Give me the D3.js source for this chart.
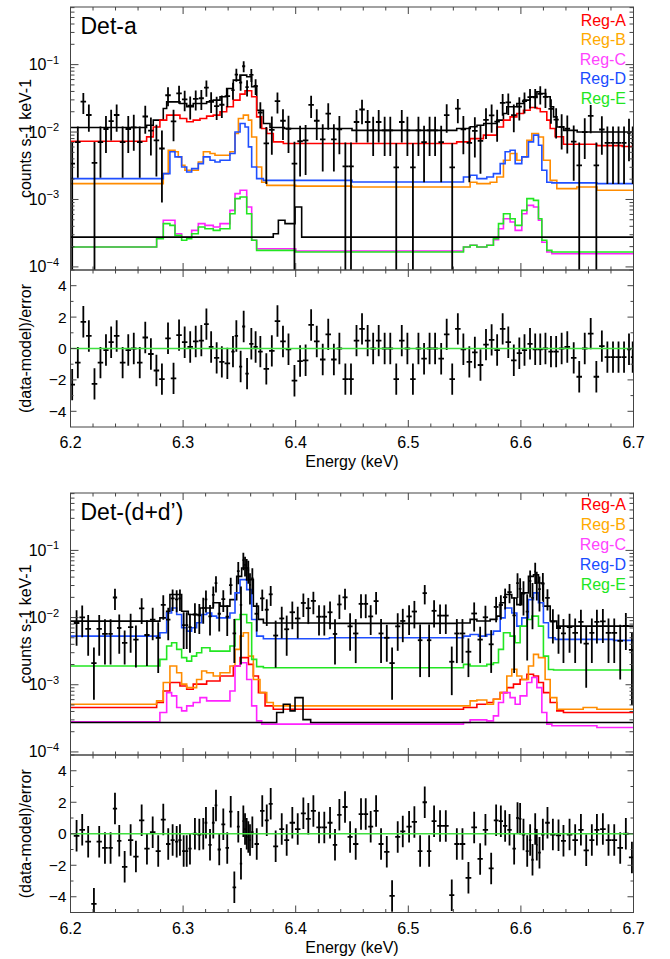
<!DOCTYPE html>
<html>
<head>
<meta charset="utf-8">
<script src="https://cdn.jsdelivr.net/npm/d3@7"></script>
<style>
  body { margin: 0; background: #fff; }
  svg { display: block; }
  text { font-family: "Liberation Sans", Arial, Helvetica, sans-serif; }
</style>
</head>
<body>
<svg id="chart" width="670" height="959"></svg>
<script>
// ---- legend ----
const regionNames = ["Reg-A", "Reg-B", "Reg-C", "Reg-D", "Reg-E"];
const regionLineColors = ["#ff0000", "#ff8c00", "#ff22ff", "#1f4fff", "#22e622"];
const regionTextColors = ["#ff0000", "#ffaa00", "#ff44ff", "#1a4cff", "#22e622"];
const xTickLabels = ["6.2", "6.3", "6.4", "6.5", "6.6", "6.7"];

// ---- Det-a : model step curves [energy keV, counts/s/keV] ----
const detATotal = [[6.2,.0117],[6.2676,.0126],[6.2735,.015],[6.2824,.0223],[6.2854,.028],[6.2972,.0265],[6.3032,.0237],[6.3090,.0265],[6.3209,.028],[6.3268,.0297],[6.3328,.0333],[6.3387,.0443],[6.3446,.0589],[6.3505,.0698],[6.3565,.066],[6.3609,.0469],[6.3654,.0211],[6.3713,.0134],[6.3772,.0117],[6.39,.0113],[6.45,.0106],[6.543,.0113],[6.555,.012],[6.561,.0126],[6.567,.0134],[6.5786,.015],[6.5845,.0188],[6.5875,.0237],[6.5964,.0265],[6.6023,.0297],[6.6082,.0333],[6.6142,.0395],[6.6172,.0373],[6.622,.0333],[6.626,.0237],[6.629,.0168],[6.632,.0119],[6.638,.0106],[6.65,.01]];
const detARegA = [[6.2,.00731],[6.2676,.00847],[6.2735,.0119],[6.2794,.015],[6.2854,.0178],[6.2972,.0159],[6.3032,.0142],[6.309,.015],[6.315,.0159],[6.3209,.0172],[6.3268,.0178],[6.3328,.02],[6.3387,.0237],[6.3446,.0297],[6.3505,.0365],[6.355,.0409],[6.3609,.0333],[6.3653,.0168],[6.3698,.0113],[6.3743,.0095],[6.3801,.00715],[6.389,.00675],[6.543,.00715],[6.5549,.008],[6.5667,.009],[6.5786,.0119],[6.5845,.015],[6.5904,.0168],[6.5964,.0188],[6.6023,.0211],[6.6082,.0231],[6.6142,.0224],[6.6172,.02],[6.623,.015],[6.626,.0113],[6.6304,.0085],[6.6378,.00659],[6.6675,.0063],[6.69,.0061]];
const detARegB = [[6.2,.00172],[6.2824,.00242],[6.2868,.00537],[6.2928,.0051],[6.2957,.00428],[6.2987,.00322],[6.3016,.00271],[6.3135,.0036],[6.318,.0051],[6.3239,.0048],[6.3283,.00453],[6.3416,.0051],[6.3461,.0095],[6.3491,.0159],[6.3535,.0178],[6.358,.015],[6.3609,.00845],[6.3653,.00303],[6.3698,.0018],[6.3743,.00162],[6.40,.00158],[6.45,.00153],[6.5549,.0018],[6.5609,.00172],[6.5727,.0018],[6.5786,.00216],[6.5845,.00382],[6.5904,.0048],[6.5964,.00382],[6.6008,.00428],[6.6053,.00757],[6.6097,.0095],[6.6156,.00845],[6.62,.00382],[6.626,.00192],[6.6319,.00145],[6.6497,.00153],[6.6675,.00137]];
const detARegC = [[6.2,.000197],[6.2765,.00027],[6.2824,.000491],[6.2928,.000311],[6.2987,.000276],[6.3076,.000348],[6.3135,.000438],[6.3194,.000413],[6.3268,.000391],[6.3328,.000438],[6.3416,.00069],[6.3461,.00122],[6.3506,.00137],[6.3565,.000774],[6.3609,.000248],[6.3653,.000186],[6.40,.000172],[6.549,.000197],[6.5549,.00021],[6.5609,.000197],[6.5697,.00021],[6.5756,.000254],[6.5801,.000369],[6.5845,.000519],[6.5904,.000463],[6.5949,.000348],[6.6008,.000615],[6.6053,.000818],[6.6112,.000774],[6.6156,.000491],[6.6186,.000232],[6.623,.000166],[6.6275,.000157]];
const detARegD = [[6.2,.00204],[6.2824,.00242],[6.2883,.0051],[6.2928,.00428],[6.2987,.00303],[6.3032,.00256],[6.3076,.00287],[6.3135,.0034],[6.318,.00428],[6.3239,.00382],[6.3283,.0036],[6.3328,.00382],[6.3416,.0048],[6.3461,.01],[6.3506,.0134],[6.355,.0119],[6.358,.00603],[6.3609,.00303],[6.3653,.00204],[6.3713,.00192],[6.45,.00182],[6.549,.00216],[6.5549,.00229],[6.5609,.00204],[6.5697,.00216],[6.5756,.00242],[6.5816,.0034],[6.586,.0051],[6.5904,.00537],[6.5949,.0034],[6.6008,.00428],[6.6067,.00715],[6.6112,.009],[6.6156,.00637],[6.6186,.00271],[6.623,.0018],[6.6275,.00176],[6.6675,.00172]];
const detARegE = [[6.2,.000197],[6.2765,.000262],[6.2824,.000438],[6.2883,.000413],[6.2928,.000294],[6.2987,.000248],[6.3032,.000262],[6.3076,.000311],[6.3135,.000391],[6.3194,.000369],[6.3268,.000348],[6.3328,.000369],[6.3416,.000615],[6.3461,.00103],[6.3506,.00109],[6.3565,.000615],[6.3609,.000248],[6.3653,.000176],[6.40,.000166],[6.549,.000197],[6.5549,.00021],[6.5609,.000197],[6.5697,.00021],[6.5756,.000262],[6.5801,.000438],[6.5845,.000615],[6.5904,.000519],[6.5949,.000413],[6.6008,.00069],[6.6053,.00103],[6.6112,.00097],[6.6156,.000519],[6.6186,.000248],[6.623,.000176],[6.6275,.000166]];
const detAOther = [[6.2,.000277],[6.3801,.000311],[6.3846,.000491],[6.3905,.000438],[6.3994,.000774],[6.4053,.000277]];

// ---- Det-a : spectrum bins ----
const detAEnergy = [6.2015,6.2065,6.2114,6.2163,6.2213,6.2266,6.2315,6.2361,6.2410,6.2463,6.2513,6.2562,6.2615,6.2664,6.2714,6.2763,6.2812,6.2866,6.2915,6.2964,6.3014,6.3063,6.3112,6.3162,6.3207,6.3249,6.3298,6.3344,6.3393,6.3443,6.3473,6.3511,6.3538,6.3568,6.3606,6.3644,6.3686,6.3739,6.3788,6.3838,6.3887,6.3936,6.3989,6.4039,6.4088,6.4137,6.4187,6.4240,6.4289,6.4339,6.4388,6.4441,6.4491,6.4540,6.4589,6.4639,6.4688,6.4737,6.4790,6.4840,6.4893,6.4942,6.4992,6.5041,6.5090,6.5140,6.5189,6.5238,6.5292,6.5341,6.5390,6.5440,6.5489,6.5542,6.5591,6.5641,6.5690,6.5740,6.5789,6.5838,6.5888,6.5937,6.5986,6.6032,6.6081,6.6127,6.6172,6.6218,6.6267,6.6313,6.6362,6.6412,6.6469,6.6518,6.6567,6.6620,6.6670,6.6719,6.6768,6.6818,6.6867,6.6916,6.6960,6.6993];
const detARate = [.0034,.0071,.0282,.0179,.0035,.0071,.0111,.0145,.0179,.0071,.0111,.0117,.0071,.0170,.0105,.0075,.0057,.0351,.0144,.0375,.0306,.0246,.0311,.0317,.0456,.0290,.0242,.0254,.0341,.0419,.0712,.0543,.0945,.0462,.0706,.0482,.0195,.0068,.0108,.0287,.0147,.0112,.0034,.0073,.0075,.0253,.0147,.0078,.0188,.0078,.0110,.0031,.0031,.0141,.0216,.0141,.0106,.0141,.0106,.0106,.0030,.0141,.0106,.0030,.0106,.0071,.0106,.0106,.0071,.0178,.0030,.0222,.0110,.0069,.0104,.0074,.0152,.0177,.0143,.0270,.0276,.0178,.0238,.0287,.0329,.0328,.0367,.0333,.0220,.0153,.0119,.0112,.0072,.0032,.0100,.0174,.0032,.0109,.0069,.0069,.0069,.0069,.0097,.0069];
const detAErr = [.0036,.0050,.0097,.0078,.0036,.0050,.0062,.0070,.0078,.0050,.0062,.0064,.0050,.0076,.0060,.0053,.0048,.0109,.0071,.0112,.0102,.0092,.0103,.0104,.0123,.0098,.0091,.0093,.0107,.0119,.0153,.0135,.0176,.0124,.0153,.0127,.0082,.0051,.0062,.0098,.0071,.0063,.0038,.0051,.0052,.0092,.0071,.0052,.0080,.0052,.0063,.0039,.0039,.0071,.0086,.0071,.0062,.0071,.0062,.0062,.0038,.0071,.0062,.0038,.0062,.0053,.0062,.0062,.0053,.0080,.0038,.0087,.0063,.0051,.0062,.0050,.0073,.0079,.0071,.0096,.0097,.0079,.0090,.0099,.0105,.0105,.0111,.0106,.0087,.0073,.0064,.0064,.0053,.0038,.0060,.0078,.0038,.0063,.0052,.0052,.0052,.0052,.0060,.0052];
const detAResid = [-2.3,-0.9,1.7,0.8,-2.25,-0.9,-0.1,0.4,0.8,-0.9,-0.1,0,-0.9,0.7,-0.35,-1.4,-1.95,0.65,-1.9,0.85,0.4,0.1,0.45,0.5,1.55,0.1,-0.6,-0.85,-0.95,-0.2,0.8,-1.15,1.4,-1.6,0.3,0.1,-0.2,-1.3,-0.15,1.75,0.45,-0.05,-2.05,-0.8,-0.75,1.5,0.45,-0.7,0.9,-0.7,0,-1.95,-1.95,0.5,1.25,0.5,0,0.5,0,0,-1.95,0.5,0,-1.95,0,-0.65,0,0,-0.65,0.9,-1.95,1.25,-0.05,-0.85,-0.25,-1.05,0.25,0.55,-0.1,1.25,0.4,-0.75,-0.3,-0.1,0.3,-0.05,-0.05,0,-0.2,-0.2,0,0.1,-0.6,-1.8,0,0.95,-1.8,0.15,-0.55,-0.55,-0.55,-0.55,-0.05,-0.55];

// ---- Det-(d+d') : model step curves ----
const detDTotal = [[6.2,.00885],[6.2794,.0099],[6.2854,.0124],[6.2883,.022],[6.2987,.0124],[6.3046,.0111],[6.315,.0139],[6.3268,.0166],[6.3328,.0148],[6.3416,.0185],[6.3476,.0411],[6.352,.0547],[6.358,.0367],[6.3624,.0148],[6.3669,.0094],[6.3713,.0083],[6.43,.0082],[6.5431,.0083],[6.5549,.0094],[6.5609,.0089],[6.5727,.0094],[6.5786,.0105],[6.5816,.0166],[6.586,.022],[6.5919,.0196],[6.5964,.0156],[6.6008,.0233],[6.6067,.0411],[6.6112,.0435],[6.6156,.0327],[6.62,.0148],[6.626,.0089],[6.6319,.00745]];
const detDRegA = [[6.2,.000458],[6.2765,.000543],[6.2824,.000809],[6.2883,.00108],[6.2972,.00096],[6.3032,.000857],[6.309,.00102],[6.3209,.00114],[6.3328,.00135],[6.3446,.0019],[6.3506,.00253],[6.358,.00201],[6.3624,.00135],[6.3669,.000764],[6.3728,.000484],[6.3801,.000432],[6.549,.000458],[6.5609,.000513],[6.5697,.000543],[6.5756,.000608],[6.5816,.000764],[6.5875,.000906],[6.5934,.00102],[6.5993,.0012],[6.6053,.00143],[6.6112,.00135],[6.6156,.00108],[6.62,.000764],[6.626,.000543],[6.6319,.000408],[6.6378,.000386]];
const detDRegB = [[6.2,.000513],[6.2765,.000575],[6.2824,.00108],[6.2883,.0019],[6.2943,.00151],[6.2987,.00102],[6.3032,.000906],[6.312,.0012],[6.3165,.0016],[6.3209,.00151],[6.3268,.00135],[6.3328,.00151],[6.3416,.0019],[6.3461,.00336],[6.3506,.0053],[6.3535,.00593],[6.358,.00267],[6.3624,.0012],[6.3683,.000764],[6.3743,.000543],[6.3801,.000484],[6.5549,.000575],[6.5609,.000594],[6.5697,.000513],[6.5756,.000608],[6.5816,.000764],[6.5875,.00135],[6.5919,.0017],[6.5964,.00135],[6.6008,.0012],[6.6067,.0019],[6.6112,.00283],[6.6156,.00253],[6.6215,.0012],[6.626,.000644],[6.6319,.000432],[6.6553,.000458],[6.6675,.000432]];
const detDRegC = [[6.2,.000281],[6.2794,.000386],[6.2854,.000764],[6.2898,.000683],[6.2943,.000458],[6.2987,.000408],[6.3032,.000484],[6.309,.000543],[6.315,.000644],[6.3209,.000575],[6.3416,.000809],[6.3461,.0019],[6.3506,.00213],[6.3565,.0012],[6.3609,.000484],[6.3653,.00029],[6.3698,.000259],[6.549,.000274],[6.5549,.0003],[6.5697,.00029],[6.5756,.000344],[6.5801,.000543],[6.5845,.000764],[6.5904,.000644],[6.5949,.000513],[6.5993,.000683],[6.6053,.00108],[6.6097,.00128],[6.6142,.000906],[6.6186,.000386],[6.623,.000259],[6.6275,.000245],[6.6675,.000231]];
const detDRegD = [[6.2,.0053],[6.2794,.00594],[6.2854,.0117],[6.2898,.0139],[6.2943,.0111],[6.2987,.00705],[6.3032,.00628],[6.3076,.00705],[6.312,.00836],[6.3165,.0111],[6.3209,.0117],[6.3254,.0105],[6.3298,.0099],[6.3416,.0117],[6.3461,.0233],[6.3506,.0367],[6.3565,.0261],[6.3609,.00935],[6.3653,.0053],[6.3713,.00483],[6.43,.00501],[6.549,.0053],[6.5549,.00561],[6.5623,.0053],[6.5697,.00561],[6.5756,.00628],[6.5816,.0099],[6.586,.0139],[6.5919,.0117],[6.5964,.00745],[6.6008,.0099],[6.6067,.0185],[6.6112,.0233],[6.6156,.0166],[6.62,.00836],[6.6245,.00501],[6.6304,.00473],[6.6823,.00457]];
const detDRegE = [[6.2,.0019],[6.2794,.00239],[6.2854,.00377],[6.2898,.00422],[6.2943,.00336],[6.2987,.00253],[6.3032,.00225],[6.3076,.00267],[6.312,.003],[6.3165,.00356],[6.3239,.00317],[6.3416,.00377],[6.3461,.00935],[6.3506,.0111],[6.3565,.00836],[6.3609,.00239],[6.3653,.00186],[6.3713,.00179],[6.549,.00201],[6.5549,.0019],[6.5697,.00201],[6.5756,.00213],[6.5801,.00336],[6.5845,.00593],[6.5904,.0053],[6.5949,.00422],[6.5993,.00745],[6.6053,.00935],[6.6097,.0105],[6.6156,.00745],[6.62,.00267],[6.6245,.00169],[6.629,.00166]];
const detDOther = [[6.2,.000274],[6.3831,.000386],[6.389,.000513],[6.395,.000408],[6.3994,.000644],[6.4065,.000303],[6.4133,.000274]];

// ---- Det-(d+d') : spectrum bins ----
const detDEnergy = [6.2054,6.2104,6.2157,6.2208,6.2255,6.2306,6.2356,6.2395,6.2433,6.2481,6.2534,6.2581,6.2632,6.2679,6.2730,6.2779,6.2824,6.2868,6.2907,6.2943,6.2972,6.3005,6.3032,6.3061,6.3105,6.3144,6.3179,6.3203,6.3239,6.3268,6.3292,6.3321,6.3357,6.3392,6.3423,6.3455,6.3490,6.3514,6.3535,6.3550,6.3565,6.3579,6.3594,6.3615,6.3654,6.3703,6.3743,6.3778,6.3822,6.3876,6.3920,6.3970,6.4018,6.4068,6.4112,6.4157,6.4207,6.4254,6.4305,6.4349,6.4388,6.4438,6.4483,6.4533,6.4580,6.4622,6.4666,6.4714,6.4758,6.4809,6.4856,6.4906,6.4951,6.5007,6.5054,6.5105,6.5146,6.5185,6.5229,6.5282,6.5333,6.5386,6.5431,6.5481,6.5534,6.5585,6.5638,6.5685,6.5736,6.5780,6.5822,6.5860,6.5899,6.5940,6.5970,6.5993,6.6023,6.6056,6.6082,6.6103,6.6127,6.6141,6.6165,6.6195,6.6236,6.6284,6.6334,6.6378,6.6432,6.6482,6.6533,6.6580,6.6630,6.6675,6.6728,6.6778,6.6829,6.6882,6.6932,6.6986];
const detDRate = [.0083,.0101,.0068,.0021,.0068,.0057,.0057,.0199,.0070,.0042,.0072,.0047,.0137,.0055,.0093,.0050,.0154,.0093,.0193,.0187,.0193,.0077,.0077,.0072,.0111,.0108,.0139,.0186,.0104,.0217,.0325,.0114,.0188,.0103,.0305,.0058,.0491,.0155,.0715,.0607,.0547,.0509,.0307,.0383,.0114,.0193,.0131,.0222,.0054,.0097,.0067,.0120,.0097,.0165,.0138,.0177,.0103,.0103,.0120,.0057,.0157,.0200,.0074,.0058,.0160,.0160,.0104,.0176,.0058,.0050,.0021,.0074,.0089,.0104,.0123,.0046,.0231,.0046,.0126,.0107,.0107,.0022,.0058,.0058,.0031,.0115,.0047,.0101,.0040,.0144,.0154,.0201,.0239,.0108,.0326,.0268,.0227,.0123,.0350,.0197,.0486,.0330,.0265,.0320,.0196,.0087,.0070,.0058,.0072,.0059,.0086,.0041,.0059,.0086,.0088,.0059,.0059,.0045,.0075,.0033];
const detDErr = [.0045,.0050,.0041,.0015,.0041,.0037,.0037,.0069,.0041,.0022,.0042,.0029,.0057,.0036,.0047,.0035,.0061,.0047,.0068,.0067,.0068,.0043,.0043,.0042,.0052,.0051,.0058,.0067,.0050,.0072,.0088,.0052,.0067,.0050,.0086,.0037,.0178,.0135,.0210,.0200,.0195,.0190,.0150,.0160,.0052,.0068,.0056,.0073,.0036,.0048,.0040,.0053,.0048,.0063,.0058,.0065,.0049,.0049,.0053,.0037,.0062,.0069,.0042,.0037,.0062,.0062,.0049,.0065,.0037,.0028,.0015,.0042,.0046,.0049,.0054,.0033,.0074,.0033,.0055,.0050,.0050,.0015,.0037,.0037,.0018,.0053,.0026,.0049,.0025,.0059,.0061,.0069,.0076,.0093,.0130,.0118,.0120,.0100,.0151,.0130,.0169,.0150,.0142,.0142,.0069,.0046,.0041,.0037,.0042,.0038,.0045,.0032,.0038,.0045,.0046,.0038,.0038,.0033,.0042,.0028];
const detDResid = [-0.13,0.25,-0.5,-4.45,-0.5,-0.9,-0.9,1.6,-0.45,-2.1,-0.4,-1.45,0.85,-0.95,0.1,-1.1,0.9,-0.65,-0.4,-0.5,-0.4,-1.1,-1.1,-0.95,0,-0.05,0,0.7,-0.7,0.7,1.8,-1.0,0.6,-0.9,1.4,-3.4,0.45,-1.9,0.8,0.3,0,-0.2,-0.4,0.1,-0.65,1.45,0.85,1.9,-0.8,0.3,-0.4,0.7,0.3,1.3,0.95,1.45,0.4,0.4,0.7,-0.7,1.2,1.7,-0.2,-0.65,1.25,1.25,0.45,1.45,-0.65,-1.15,-3.95,-0.2,0.15,0.45,0.75,-1.1,2.0,-1.1,0.8,0.5,0.5,-3.9,-0.65,-0.65,-2.8,0.4,-1.6,0.25,-2.2,0.85,0.8,0.5,0.25,-0.95,1.0,0.95,-0.05,-1.1,-0.4,-1.65,0.3,-0.7,-1.2,-0.05,0.7,-0.05,-0.1,-0.45,-0.05,-0.4,0.25,-1.05,-0.4,0.25,0.3,-0.4,-0.4,-0.9,0,-1.5];

const svg = d3.select("#chart");
const plotLeft = 70.5, plotRight = 633.5;
const frameColor = "#444";

function drawPanel(p) {
  const x = d3.scaleLinear().domain([6.2, 6.7]).range([plotLeft, plotRight]);
  const y = d3.scaleLog().domain([9e-5, 0.715]).range([p.mainBottom, p.top]);
  const yr = d3.scaleLinear().domain([-5, 5]).range([p.resBottom, p.mainBottom]);
  const g = svg.append("g");

  // clip regions
  g.append("clipPath").attr("id", p.id + "-main")
    .append("rect").attr("x", plotLeft).attr("y", p.top)
    .attr("width", plotRight - plotLeft).attr("height", p.mainBottom - p.top);
  g.append("clipPath").attr("id", p.id + "-res")
    .append("rect").attr("x", plotLeft).attr("y", p.mainBottom)
    .attr("width", plotRight - plotLeft).attr("height", p.resBottom - p.mainBottom);

  const main = g.append("g").attr("clip-path", `url(#${p.id}-main)`);
  const res = g.append("g").attr("clip-path", `url(#${p.id}-res)`);

  // model step curves
  const step = d3.line().x(d => x(d[0])).y(d => y(d[1])).curve(d3.curveStepAfter);
  const models = [[p.total, "#000"]].concat(p.regions.map((r, i) => [r, regionLineColors[i]])).concat([[p.other, "#000"]]);
  models.forEach(([m, col]) => {
    const pts = m.concat([[6.7, m[m.length - 1][1]]]);
    main.append("path").attr("d", step(pts))
      .attr("fill", "none").attr("stroke", col).attr("stroke-width", 1.6);
  });

  // half bin widths from neighbour spacing
  const E = p.energy;
  const hw = E.map((e, i) => {
    const a = i > 0 ? e - E[i - 1] : E[1] - E[0];
    const b = i < E.length - 1 ? E[i + 1] - e : a;
    return Math.min(a, b) / 2;
  });

  const ymin = y.domain()[0];
  E.forEach((e, i) => {
    const d = p.rate[i], s = p.err[i];
    if (d + s > ymin) {
      main.append("line")
        .attr("x1", x(e)).attr("x2", x(e))
        .attr("y1", y(Math.max(d - s, ymin / 2))).attr("y2", y(d + s))
        .attr("stroke", "#000").attr("stroke-width", 1.8);
    }
    if (d > ymin) {
      main.append("line")
        .attr("x1", x(e - hw[i])).attr("x2", x(e + hw[i]))
        .attr("y1", y(d)).attr("y2", y(d))
        .attr("stroke", "#000").attr("stroke-width", 1.8);
    }
    const r = p.resid[i];
    res.append("line")
      .attr("x1", x(e)).attr("x2", x(e))
      .attr("y1", yr(r - 1)).attr("y2", yr(r + 1))
      .attr("stroke", "#000").attr("stroke-width", 1.8);
    res.append("line")
      .attr("x1", x(e - hw[i])).attr("x2", x(e + hw[i]))
      .attr("y1", yr(r)).attr("y2", yr(r))
      .attr("stroke", "#000").attr("stroke-width", 1.8);
  });

  // zero line
  res.append("line")
    .attr("x1", plotLeft).attr("x2", plotRight)
    .attr("y1", yr(0)).attr("y2", yr(0))
    .attr("stroke", "#3fe03f").attr("stroke-width", 1.3);

  // frames
  [[p.top, p.mainBottom], [p.mainBottom, p.resBottom]].forEach(([t, b]) => {
    g.append("rect").attr("x", plotLeft).attr("y", t)
      .attr("width", plotRight - plotLeft).attr("height", b - t)
      .attr("fill", "none").attr("stroke", frameColor).attr("stroke-width", 1);
  });

  const tick = (x1, y1, x2, y2) => g.append("line")
    .attr("x1", x1).attr("y1", y1).attr("x2", x2).attr("y2", y2)
    .attr("stroke", frameColor).attr("stroke-width", 1);

  // energy ticks on every horizontal edge, pointing inward
  const xMajor = x.ticks(5);
  x.ticks(25).forEach(v => {
    const major = xMajor.some(m => Math.abs(m - v) < 1e-6);
    const len = major ? 7 : 3.5;
    const px = x(v);
    tick(px, p.top, px, p.top + len);
    tick(px, p.mainBottom, px, p.mainBottom - len);
    tick(px, p.mainBottom, px, p.mainBottom + len);
    tick(px, p.resBottom, px, p.resBottom - len);
  });

  // log ticks
  y.ticks().forEach(v => {
    const lg = Math.log10(v);
    const major = Math.abs(lg - Math.round(lg)) < 1e-6;
    const len = major ? 8 : 4;
    const py = y(v);
    tick(plotLeft, py, plotLeft + len, py);
    tick(plotRight, py, plotRight - len, py);
    if (major) {
      const t = g.append("text").attr("x", plotLeft - 11.5).attr("y", py + 5.5)
        .attr("text-anchor", "end").attr("font-size", 16).attr("fill", "#000");
      t.append("tspan").text("10");
      t.append("tspan").attr("dy", -6.5).attr("font-size", 11).text("\u2212" + Math.abs(Math.round(lg)));
    }
  });

  // residual ticks
  yr.ticks(10).forEach(v => {
    if (Math.abs(v) > 4.5) return;
    const major = v % 2 === 0;
    const len = major ? 6 : 3;
    const py = yr(v);
    tick(plotLeft, py, plotLeft + len, py);
    tick(plotRight, py, plotRight - len, py);
    if (major) {
      g.append("text").attr("x", plotLeft - 4).attr("y", py + 5.5)
        .attr("text-anchor", "end").attr("font-size", 15.5).attr("fill", "#000")
        .text(v < 0 ? "\u2212" + Math.abs(v) : String(v));
    }
  });

  // energy labels
  xMajor.forEach((v, i) => {
    g.append("text").attr("x", x(v)).attr("y", p.resBottom + 21)
      .attr("text-anchor", "middle").attr("font-size", 16).attr("fill", "#000")
      .text(xTickLabels[i]);
  });
  g.append("text").attr("x", (plotLeft + plotRight) / 2).attr("y", p.resBottom + 40)
    .attr("text-anchor", "middle").attr("font-size", 16).attr("fill", "#000")
    .text("Energy (keV)");

  // axis titles
  g.append("text")
    .attr("transform", `translate(31,${(p.top + p.mainBottom) / 2}) rotate(-90)`)
    .attr("text-anchor", "middle").attr("font-size", 16).attr("fill", "#000")
    .text("counts s-1 keV-1");
  g.append("text")
    .attr("transform", `translate(31,${(p.mainBottom + p.resBottom) / 2}) rotate(-90)`)
    .attr("text-anchor", "middle").attr("font-size", 16).attr("fill", "#000")
    .text("(data-model)/error");

  // panel title
  g.append("text").attr("x", plotLeft + 10).attr("y", p.top + 26.5)
    .attr("font-size", 23).attr("fill", "#000").text(p.title);

  // legend
  regionNames.forEach((n, i) => {
    g.append("text").attr("x", 626).attr("y", p.top + p.legendOffset + i * p.legendStep)
      .attr("text-anchor", "end").attr("font-size", 16)
      .attr("fill", regionTextColors[i]).text(n);
  });
}

drawPanel({
  id: "deta", title: "Det-a", top: 7, mainBottom: 270, resBottom: 427,
  legendOffset: 18.5, legendStep: 19.6,
  total: detATotal, regions: [detARegA, detARegB, detARegC, detARegD, detARegE], other: detAOther,
  energy: detAEnergy, rate: detARate, err: detAErr, resid: detAResid
});

drawPanel({
  id: "detd", title: "Det-(d+d\u2019)", top: 493, mainBottom: 755, resBottom: 912.5,
  legendOffset: 16.5, legendStep: 20,
  total: detDTotal, regions: [detDRegA, detDRegB, detDRegC, detDRegD, detDRegE], other: detDOther,
  energy: detDEnergy, rate: detDRate, err: detDErr, resid: detDResid
});
</script>
</body>
</html>
